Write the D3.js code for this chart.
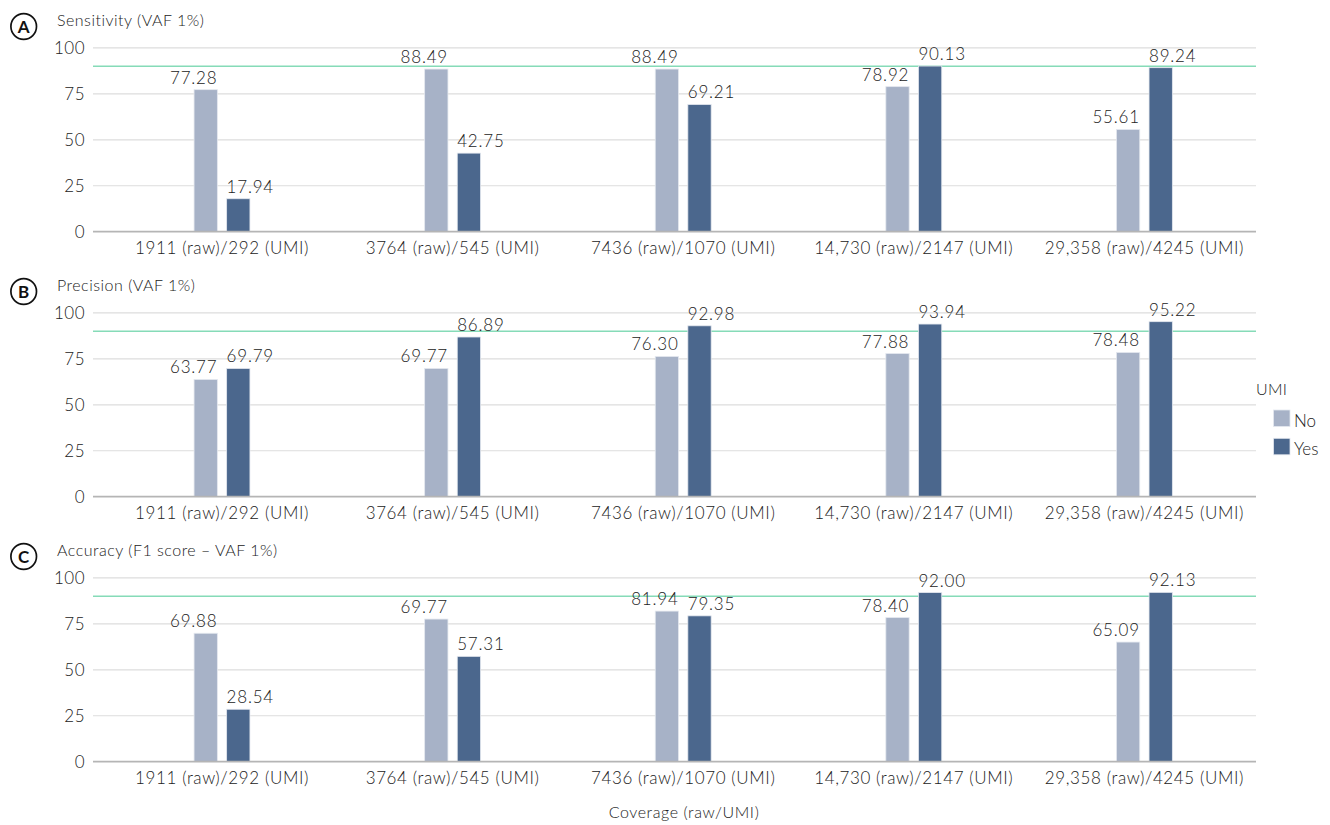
<!DOCTYPE html>
<html>
<head>
<meta charset="utf-8">
<script src="https://cdn.jsdelivr.net/npm/d3@7"></script>
<style>
  body { margin: 0; background: #fff; }
  svg { font-family: Lato, "Noto Sans", sans-serif; }
</style>
</head>
<body>
<svg id="chart" width="1330" height="825"></svg>
<script>
// categories (coverage raw/UMI)
var categories = ["1911 (raw)/292 (UMI)", "3764 (raw)/545 (UMI)", "7436 (raw)/1070 (UMI)",
                  "14,730 (raw)/2147 (UMI)", "29,358 (raw)/4245 (UMI)"];
var groups = ["No", "Yes"];
var yTicks = [0, 25, 50, 75, 100];
var threshold = 90;

var panelLetters = ["A", "B", "C"];
var panelTitles = ["Sensitivity (VAF 1%)", "Precision (VAF 1%)", "Accuracy (F1 score \u2013 VAF 1%)"];

// values per panel, UMI = No / Yes
var sensitivityNo  = [77.28, 88.49, 88.49, 78.92, 55.61];
var sensitivityYes = [17.94, 42.75, 69.21, 90.13, 89.24];
var precisionNo    = [63.77, 69.77, 76.30, 77.88, 78.48];
var precisionYes   = [69.79, 86.89, 92.98, 93.94, 95.22];
var accuracyNo     = [69.88, 77.6, 81.94, 78.40, 65.09];
var accuracyYes    = [28.54, 57.31, 79.35, 92.00, 92.13];
// the printed labels (the source prints 69.77 over a bar of about 77.6)
var accuracyNoLabels = ["69.88", "69.77", "81.94", "78.40", "65.09"];

var colors = { No: "#a7b2c7", Yes: "#4b678d" };

var panels = [
  { no: sensitivityNo, yes: sensitivityYes },
  { no: precisionNo, yes: precisionYes },
  { no: accuracyNo, yes: accuracyYes, noLabels: accuracyNoLabels }
];

var svg = d3.select("#chart");
var plotLeft = 93, plotRight = 1256;
var panelHeight = 265, firstBase = 231.7, plotH = 183.8;
var font = "Lato, 'Noto Sans', sans-serif";
var ink = "#222";

var x = d3.scaleBand().domain(categories).range([106.7, 1259.7]);
var xInner = d3.scaleBand().domain(groups).range([-27.95, 27.95]).paddingInner(0.285);

panels.forEach(function(p, i) {
  var base = firstBase + i * panelHeight;
  var y = d3.scaleLinear().domain([0, 100]).range([base, base - plotH]);
  var g = svg.append("g");

  // panel letter + title
  var cy = 26.5 + i * 265;
  g.append("circle").attr("cx", 23.7).attr("cy", cy).attr("r", 12.8)
    .attr("fill", "none").attr("stroke", "#111").attr("stroke-width", 1.7);
  g.append("text").attr("x", 23.7).attr("y", cy + 6).attr("text-anchor", "middle")
    .attr("font-size", 17).attr("font-weight", "bold").attr("fill", "#111").text(panelLetters[i]);
  g.append("text").attr("x", 57).attr("y", cy - 0.5).attr("font-size", 16)
    .attr("font-weight", 300).attr("letter-spacing", 0.5).attr("fill", ink).text(panelTitles[i]);

  // grid
  g.selectAll(".grid").data(yTicks.slice(1)).enter().append("line")
    .attr("x1", plotLeft).attr("x2", plotRight)
    .attr("y1", function(d) { return y(d); }).attr("y2", function(d) { return y(d); })
    .attr("stroke", "#dddddd").attr("stroke-width", 1.2);

  // y tick labels
  var yAxis = d3.axisLeft(y).tickValues(yTicks).tickSize(0).tickPadding(0);
  var ya = g.append("g").attr("transform", "translate(85,0)").call(yAxis);
  ya.select(".domain").remove();
  ya.selectAll("text").attr("font-size", 17).attr("fill", ink)
    .attr("letter-spacing", 0.5).attr("font-weight", 300).attr("font-family", font);

  // threshold line
  g.append("line").attr("x1", plotLeft).attr("x2", plotRight)
    .attr("y1", y(threshold)).attr("y2", y(threshold))
    .attr("stroke", "#86dbb8").attr("stroke-width", 1.6);

  // bars
  var rows = categories.map(function(c, j) {
    return [
      { cat: c, key: "No", value: p.no[j], label: p.noLabels ? p.noLabels[j] : p.no[j].toFixed(2) },
      { cat: c, key: "Yes", value: p.yes[j], label: p.yes[j].toFixed(2) }
    ];
  });
  var grp = g.selectAll(".grp").data(rows).enter().append("g")
    .attr("transform", function(d) { return "translate(" + (x(d[0].cat) + x.bandwidth() / 2) + ",0)"; });

  grp.selectAll("rect").data(function(d) { return d; }).enter().append("rect")
    .attr("x", function(d) { return xInner(d.key); })
    .attr("width", xInner.bandwidth())
    .attr("y", function(d) { return y(d.value); })
    .attr("height", function(d) { return base - y(d.value); })
    .attr("fill", function(d) { return colors[d.key]; })
    .attr("stroke", "#e4e8ef").attr("stroke-width", 0.8);

  grp.selectAll(".lbl").data(function(d) { return d; }).enter().append("text")
    .attr("x", function(d) { return xInner(d.key) + xInner.bandwidth() / 2 + (d.key === "No" ? -12 : 12); })
    .attr("y", function(d) { return y(d.value) - 6; })
    .attr("text-anchor", "middle").attr("font-size", 17).attr("fill", ink)
    .attr("font-weight", 300).attr("letter-spacing", 0.8)
    .text(function(d) { return d.label; });

  // baseline + category labels
  g.append("line").attr("x1", plotLeft).attr("x2", plotRight)
    .attr("y1", base).attr("y2", base).attr("stroke", "#b5b5b5").attr("stroke-width", 1.8);
  var xa = g.append("g").attr("transform", "translate(0," + base + ")")
    .call(d3.axisBottom(x).tickSize(0).tickPadding(0));
  xa.select(".domain").remove();
  xa.selectAll("text").attr("font-size", 17).attr("fill", ink).attr("dy", 0).attr("y", 22)
    .attr("font-weight", 300).attr("letter-spacing", 0.6).attr("font-family", font);
});

// legend
var leg = svg.append("g");
leg.append("text").attr("x", 1256).attr("y", 395).attr("font-size", 16)
  .attr("font-weight", 300).attr("letter-spacing", 0.3).attr("fill", ink).text("UMI");
groups.forEach(function(k, i) {
  leg.append("rect").attr("x", 1273.5).attr("y", 410 + i * 28.3).attr("width", 16.5).attr("height", 16.5)
    .attr("fill", colors[k]).attr("stroke", "#e4e8ef").attr("stroke-width", 0.8);
  leg.append("text").attr("x", 1294).attr("y", 426.5 + i * 28).attr("font-size", 17)
    .attr("font-weight", 300).attr("fill", ink).text(k);
});

// x title
svg.append("text").attr("x", 684).attr("y", 818).attr("text-anchor", "middle")
  .attr("font-size", 16).attr("font-weight", 300).attr("letter-spacing", 0.6)
  .attr("fill", ink).text("Coverage (raw/UMI)");
</script>
</body>
</html>
